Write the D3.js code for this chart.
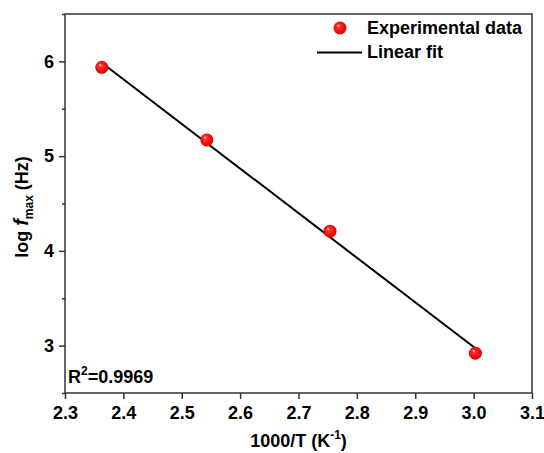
<!DOCTYPE html>
<html><head><meta charset="utf-8">
<script src="https://cdn.jsdelivr.net/npm/d3@7"></script>
<style>
body{margin:0;background:#fff;}
text{font-family:"Liberation Sans",Arial,sans-serif;font-weight:bold;fill:#000;}
</style></head>
<body><svg id="c" width="544" height="453"></svg>
<script>
// data
const xData = [2.363, 2.543, 2.754, 3.003];
const yData = [5.937, 5.171, 4.208, 2.920];
const fitX = [2.363, 3.003];
const fitY = [5.985, 2.972];
const xTicks = [2.3, 2.4, 2.5, 2.6, 2.7, 2.8, 2.9, 3.0, 3.1];
const yTicks = [3, 4, 5, 6];
const yMinor = [2.5, 3.5, 4.5, 5.5, 6.5];
const legendLabels = ["Experimental data", "Linear fit"];
const r2Label = "0.9969";

const svg = d3.select("#c");
const L = 65, R = 532, T = 14, B = 393;
const x = d3.scaleLinear().domain([2.3, 3.1]).range([L, R]);
const y = d3.scaleLinear().domain([2.5, 6.5]).range([B, T]);

const defs = svg.append("defs");
const g = defs.append("radialGradient").attr("id","ball").attr("cx","0.5").attr("cy","0.5").attr("r","0.6").attr("fx","0.35").attr("fy","0.3");
g.append("stop").attr("offset","0").attr("stop-color","#ffe0e0");
g.append("stop").attr("offset","0.22").attr("stop-color","#ff3030");
g.append("stop").attr("offset","0.8").attr("stop-color","#e80000");
g.append("stop").attr("offset","1").attr("stop-color","#b80000");

const axisColor = "#333";
const fs = "18px";
// axes
svg.append("g").attr("transform",`translate(0,${B})`)
  .call(d3.axisBottom(x).tickValues(xTicks).tickFormat(d3.format(".1f")).tickSizeOuter(0).tickSize(6).tickPadding(7));
svg.append("g").attr("transform",`translate(${L},0)`)
  .call(d3.axisLeft(y).tickValues(yTicks).tickFormat(d3.format("d")).tickSizeOuter(0).tickSize(6).tickPadding(5));
svg.append("g").attr("transform",`translate(${L},0)`)
  .call(d3.axisLeft(y).tickValues(yMinor).tickFormat("").tickSizeOuter(0).tickSize(3));
svg.selectAll(".domain").remove();
svg.selectAll(".tick line").attr("stroke",axisColor).attr("stroke-width",1.5);
svg.selectAll(".tick text").style("font-size",fs).style("font-family","'Liberation Sans',Arial,sans-serif").style("font-weight","bold").attr("fill","#000");

svg.append("rect").attr("x",L).attr("y",T).attr("width",R-L).attr("height",B-T)
  .attr("fill","none").attr("stroke",axisColor).attr("stroke-width",1.5);

// fit line
svg.append("line").attr("x1",x(fitX[0])).attr("y1",y(fitY[0])).attr("x2",x(fitX[1])).attr("y2",y(fitY[1]))
  .attr("stroke","#000").attr("stroke-width",2);

// points
svg.selectAll("circle.pt").data(xData.map((d,i)=>[d,yData[i]])).join("circle")
  .attr("class","pt").attr("cx",d=>x(d[0])).attr("cy",d=>y(d[1])).attr("r",6.5)
  .attr("fill","url(#ball)");

// legend
svg.append("circle").attr("cx",340).attr("cy",28).attr("r",6.5).attr("fill","url(#ball)");
svg.append("text").attr("x",367).attr("y",34).style("font-size",fs).text(legendLabels[0]);
svg.append("line").attr("x1",317).attr("x2",362).attr("y1",52.5).attr("y2",52.5).attr("stroke","#000").attr("stroke-width",2);
svg.append("text").attr("x",367).attr("y",58).style("font-size",fs).text(legendLabels[1]);

// R2
const r2 = svg.append("text").attr("x",68).attr("y",383).style("font-size",fs);
r2.append("tspan").text("R");
r2.append("tspan").attr("dy",-8).style("font-size","12px").text("2");
r2.append("tspan").attr("dy",8).text("=" + r2Label);

// axis titles
const xt = svg.append("text").attr("x",(L+R)/2).attr("y",447).attr("text-anchor","middle").style("font-size",fs);
xt.append("tspan").text("1000/T (K");
xt.append("tspan").attr("dy",-8).style("font-size","12px").text("-1");
xt.append("tspan").attr("dy",8).text(")");

const yt = svg.append("text").attr("transform",`translate(28,207) rotate(-90)`).attr("text-anchor","middle").style("font-size",fs);
yt.append("tspan").text("log ");
yt.append("tspan").style("font-style","italic").style("font-size","20px").text("f");
yt.append("tspan").attr("dy",5).style("font-size","12px").text("max");
yt.append("tspan").attr("dy",-5).text(" (Hz)");
</script></body></html>
